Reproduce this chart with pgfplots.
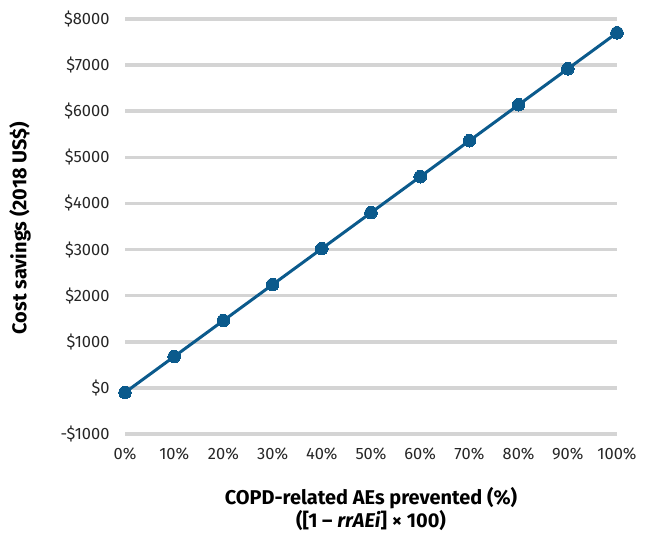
\documentclass[border=0pt]{standalone}
\usepackage{fontspec}
\setmainfont{Fira Sans}
\usepackage{pgfplots}
\pgfplotsset{compat=1.18}
\definecolor{lineblue}{RGB}{11,90,140}
\definecolor{gridgray}{RGB}{212,212,212}
\begin{document}
\begin{tikzpicture}[x=1bp,y=1bp]
\useasboundingbox (0bp,0bp) rectangle (649bp,533bp);
\begin{axis}[
  at={(125bp,99bp)}, anchor=south west,
  scale only axis, width=492bp, height=415bp,
  xmin=0, xmax=100, ymin=-1000, ymax=8000,
  axis line style={draw=none},
  major tick length=0pt,
  xtick={0,10,...,100},
  xticklabels={0\%,10\%,20\%,30\%,40\%,50\%,60\%,70\%,80\%,90\%,100\%},
  ytick={-1000,0,...,8000},
  yticklabels={-\$1000,\$0,\$1000,\$2000,\$3000,\$4000,\$5000,\$6000,\$7000,\$8000},
  ymajorgrids,
  grid style={gridgray, line width=3.5bp},
  tick label style={font=\fontsize{16.5}{19}\selectfont, text=black!85},
  yticklabel style={xshift=-12bp},
  xticklabel style={yshift=-10bp},
  clip=false,
]
\addplot[lineblue, line width=3bp, mark=*, mark size=6.3bp, mark options={fill=lineblue, draw=lineblue, line width=0pt}]
coordinates {
(0,-100) (10,680) (20,1460) (30,2240) (40,3020) (50,3800)
(60,4580) (70,5360) (80,6140) (90,6920) (100,7700)
};
\end{axis}
\node[font=\bfseries\fontsize{20}{23}\selectfont, align=center, anchor=north, inner sep=0] at (371bp,46bp) {COPD-related AEs prevented (\%)\\([1 -- \textit{rrAEi}] × 100)};
\node[font=\bfseries\fontsize{20}{22}\selectfont, rotate=90, inner sep=0] at (20bp,305bp) {Cost savings (2018 US\$)};
\end{tikzpicture}
\end{document}
